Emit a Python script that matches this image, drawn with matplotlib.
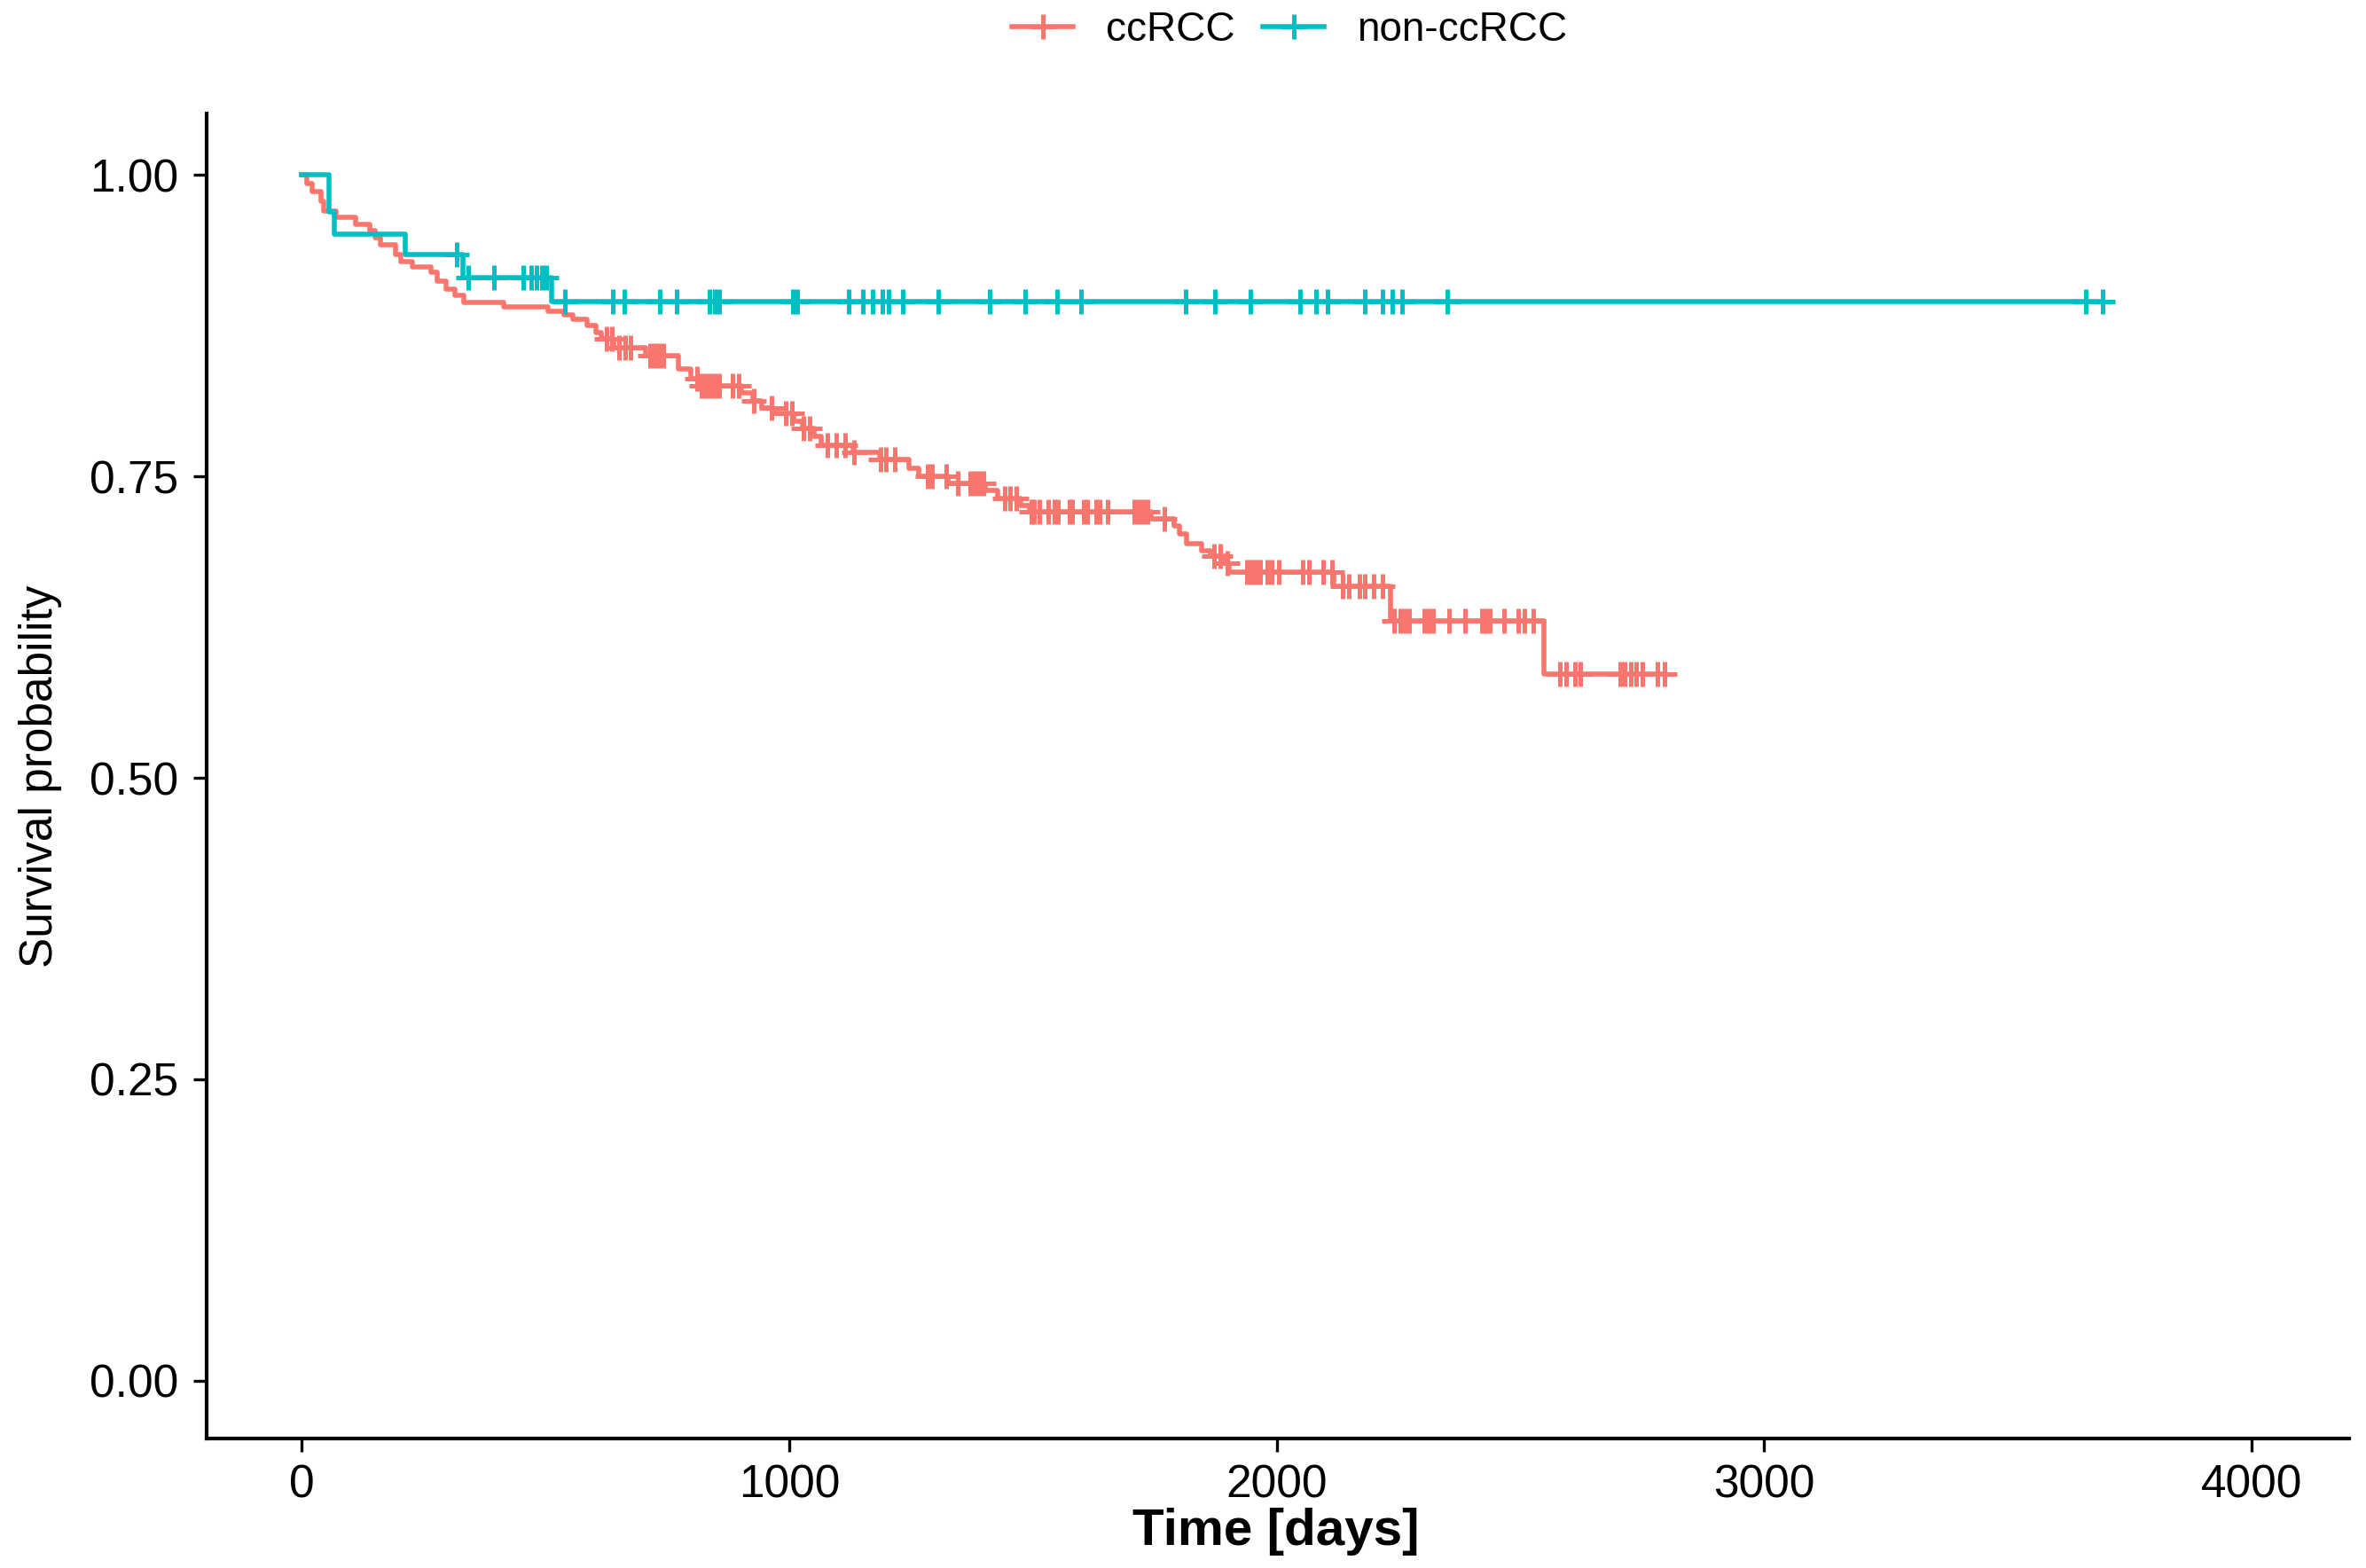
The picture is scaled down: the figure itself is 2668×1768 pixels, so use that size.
import numpy as np
import matplotlib
matplotlib.use("Agg")
import matplotlib.pyplot as plt
from matplotlib.lines import Line2D

plt.rcParams["font.family"] = ["Liberation Sans", "DejaVu Sans"]

groups = ["ccRCC", "non-ccRCC"]
colors = ["#F8766D", "#00BFC4"]

# ccRCC: event times (days) and survival after each step
cc_times = [0, 10, 22, 40, 46, 70, 110, 140, 150, 162, 192, 204, 228, 265, 278,
            296, 314, 332, 415, 505, 538, 556, 586, 604, 615, 640, 705, 773, 798,
            818, 902, 925, 944, 968, 1010, 1028, 1052, 1065, 1131, 1185, 1245,
            1265, 1325, 1403, 1428, 1475, 1494, 1743, 1790, 1800, 1815, 1846,
            1864, 1893, 1902, 2118, 2233, 2548]
cc_surv = [1.0, 0.993, 0.986, 0.978, 0.970, 0.965, 0.959, 0.954, 0.948, 0.942,
           0.934, 0.928, 0.924, 0.919, 0.912, 0.905, 0.900, 0.894, 0.891, 0.887,
           0.884, 0.880, 0.875, 0.869, 0.864, 0.857, 0.850, 0.839, 0.831, 0.825,
           0.819, 0.813, 0.807, 0.802, 0.796, 0.790, 0.783, 0.776, 0.770, 0.764,
           0.757, 0.750, 0.744, 0.738, 0.732, 0.726, 0.721, 0.715, 0.709, 0.702,
           0.694, 0.688, 0.684, 0.678, 0.671, 0.659, 0.630, 0.586]
cc_end = 2795
cc_censor = [626, 636, 651, 663, 675, 714, 724, 733, 742, 811, 821, 830, 839, 848,
             857, 884, 896, 927, 963, 993, 1005, 1030, 1042, 1078, 1096, 1114,
             1133, 1187, 1199, 1217, 1284, 1293, 1323, 1345, 1372, 1381, 1390,
             1399, 1442, 1454, 1466, 1496, 1502, 1514, 1532, 1545, 1551, 1575,
             1581, 1605, 1611, 1630, 1636, 1654, 1708, 1717, 1726, 1735, 1769,
             1872, 1884, 1899, 1939, 1948, 1957, 1966, 1981, 1990, 2005, 2054,
             2066, 2096, 2114, 2135, 2148, 2169, 2181, 2199, 2217, 2241, 2254,
             2263, 2272, 2302, 2311, 2320, 2354, 2387, 2420, 2429, 2438, 2466,
             2496, 2508, 2526, 2581, 2593, 2611, 2623, 2705, 2714, 2726, 2738,
             2750, 2781, 2795]

# non-ccRCC
non_times = [0, 57, 67, 212, 330, 513]
non_surv = [1.0, 0.969, 0.951, 0.934, 0.915, 0.895]
non_end = 3695
non_censor = [318, 342, 394, 454, 471, 481, 492, 502, 540, 638, 662, 735, 770,
              836, 847, 857, 1007, 1017, 1123, 1151, 1172, 1192, 1204, 1233, 1306,
              1411, 1484, 1549, 1598, 1813, 1874, 1947, 2048, 2080, 2105, 2180,
              2218, 2237, 2258, 2350, 3660, 3695]

x_ticks = [0, 1000, 2000, 3000, 4000]
y_ticks = [0.00, 0.25, 0.50, 0.75, 1.00]


def draw_curve(ax, times, surv, end, censor, color):
    t = np.append(times, end)
    s = np.append(surv, surv[-1])
    ax.step(t, s, where="post", color=color, lw=2.0)
    idx = np.searchsorted(times, censor, side="right") - 1
    ax.plot(censor, np.asarray(surv)[idx], ls="none", marker="+", ms=10,
            mew=1.8, color=color)


fig = plt.figure(figsize=(13.34, 8.84), dpi=200)
ax = fig.add_axes([0.0873, 0.0826, 0.9056, 0.8450])

draw_curve(ax, cc_times, cc_surv, cc_end, cc_censor, colors[0])
draw_curve(ax, non_times, non_surv, non_end, non_censor, colors[1])

ax.set_xlim(-195, 4200)
ax.set_ylim(-0.048, 1.051)
ax.set_xticks(x_ticks)
ax.set_yticks(y_ticks)
ax.set_yticklabels([f"{v:.2f}" for v in y_ticks])
ax.tick_params(labelsize=18.5, length=5.4, width=1.2, colors="black")
ax.tick_params(axis="y", pad=6)
ax.tick_params(axis="x", pad=5)
for side in ("top", "right"):
    ax.spines[side].set_visible(False)
for side in ("left", "bottom"):
    ax.spines[side].set_linewidth(1.5)

ax.set_xlabel("Time [days]", fontsize=21, fontweight="bold", va="center")
ax.xaxis.set_label_coords(0.499, -0.070)
ax.set_ylabel("Survival probability", fontsize=18.5, va="center")
ax.yaxis.set_label_coords(-0.0774, 0.5)

handles = [Line2D([], [], color=c, lw=2.0, marker="+", ms=10, mew=1.8) for c in colors]
fig.legend(handles, groups, loc="center", bbox_to_anchor=(0.545, 0.981), ncol=2,
           frameon=False, fontsize=16.5, handlelength=1.5, handletextpad=0.8,
           columnspacing=0.7)

fig.savefig("out.png", dpi=200)
plt.close(fig)
